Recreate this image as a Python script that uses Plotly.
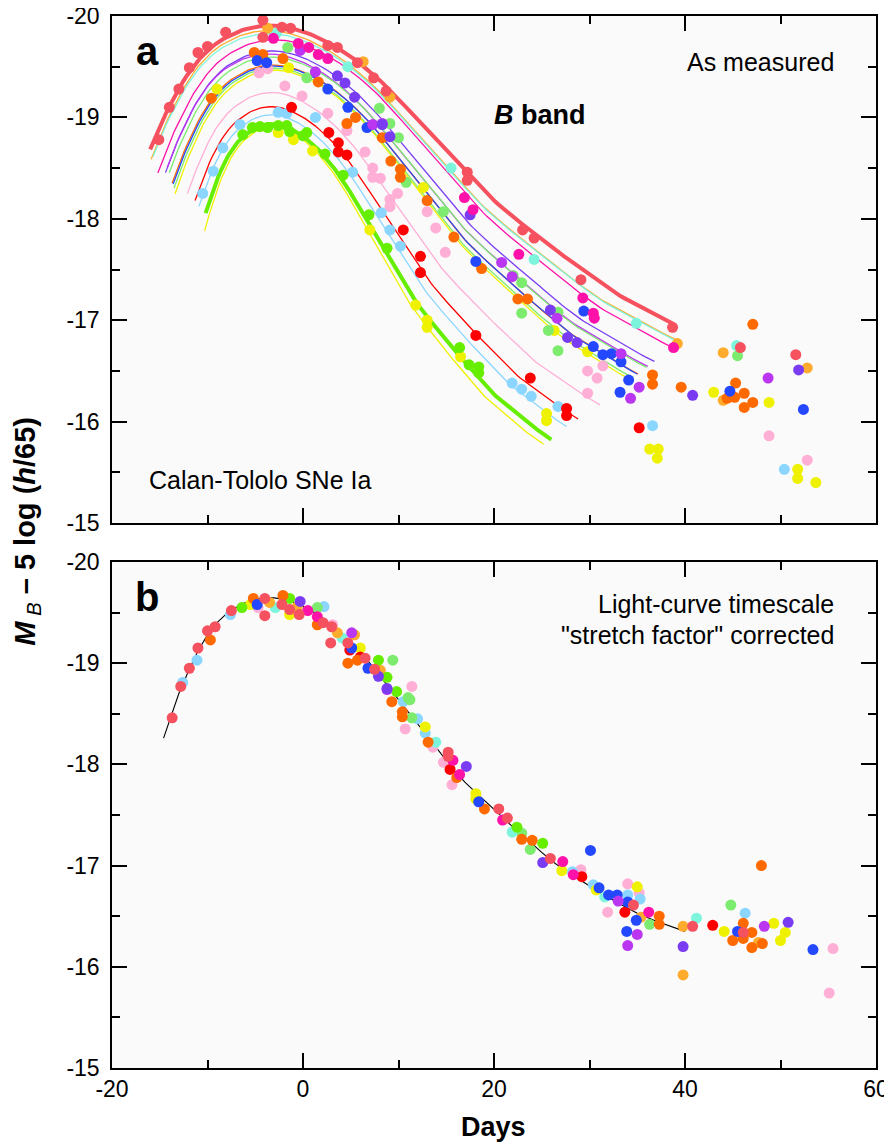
import numpy as np
import plotly.graph_objects as go

# ---------------- colours ----------------
C_CORAL = "#F5515F"
C_LORANGE = "#FFAB2E"
C_DORANGE = "#FF6A00"
C_AQUA = "#7DF5DC"
C_MAGENTA = "#FF12A9"
C_VIOLET = "#7A3CF2"
C_PURPLE = "#BA36F0"
C_BLUE = "#2448FF"
C_LGREEN = "#7DEB6E"
C_GREEN = "#66EE00"
C_YELLOW = "#EEF200"
C_PINK = "#FFAED6"
C_RED = "#FF0000"
C_LBLUE = "#8AD6FF"

# ---------------- template light curve (panel b line) ----------------
TPL_T = [-14.6, -13, -12, -11, -10, -9, -8, -7, -6, -5, -4, -3, -2, -1, 0, 1, 2, 3, 4, 5,
         6, 7, 8, 9, 10, 11, 12, 13, 14, 15, 16, 17, 18, 19, 20, 21, 22, 23, 24, 25,
         26, 27, 28, 29, 30, 31, 33, 35, 37, 39, 40]
TPL_M = [-18.26, -18.70, -18.92, -19.12, -19.28, -19.40, -19.49, -19.55, -19.60, -19.63,
         -19.645, -19.645, -19.63, -19.60, -19.56, -19.51, -19.45, -19.38, -19.30, -19.21,
         -19.11, -19.00, -18.88, -18.76, -18.64, -18.52, -18.40, -18.28, -18.15, -18.03,
         -17.92, -17.82, -17.73, -17.64, -17.55, -17.47, -17.38, -17.30, -17.21, -17.13,
         -17.05, -16.98, -16.92, -16.86, -16.80, -16.74, -16.63, -16.53, -16.45, -16.38, -16.35]

# ---------------- panel a fitted curves: per-SN stretch, shift, offset, span ----------------
CURVE_COLOR = [C_CORAL, C_LORANGE, C_AQUA, C_MAGENTA, C_VIOLET, C_PURPLE, C_LGREEN, C_DORANGE,
               C_BLUE, C_LGREEN, C_YELLOW, C_PINK, C_RED, C_LBLUE, C_GREEN, C_YELLOW]
CURVE_STRETCH = [1.20, 1.15, 1.16, 1.13, 1.07, 1.05, 1.05, 1.03, 1.03, 1.01, 1.00, 0.91, 0.85, 0.82, 0.76, 0.73]
CURVE_SHIFT = [0.8, 0.4, 0.5, 1.0, 0.5, 0.1, 0.4, 0.5, 0.6, 0.5, 0.6, -0.1, -0.33, -0.4, -0.55, -0.6]
CURVE_OFFSET = [-0.26, -0.21, -0.18, -0.12, -0.01, 0.02, 0.05, 0.13, 0.14, 0.16, 0.18, 0.40, 0.54, 0.62, 0.71, 0.74]
CURVE_START = [-16.0, -15.9, -15.7, -15.2, -14.4, -14.2, -14.0, -13.7, -13.6, -13.5, -13.4, -12.1, -11.3, -10.9, -10.2, -10.3]
CURVE_END = [38.7, 39.1, 38.8, 39.0, 36.8, 36.1, 36.0, 35.1, 35.0, 34.6, 34.3, 31.1, 28.8, 27.6, 26.0, 25.2]
CURVE_WIDTH = [4, 1.3, 1.3, 1.3, 1.3, 1.3, 1.3, 1.3, 1.3, 1.3, 1.3, 1.3, 1.3, 1.3, 4, 1.3]

# ---------------- panel a data points (days, M_B) ----------------
A_CORAL = [(-15.1, -18.78), (-14.0, -19.10), (-13.0, -19.28), (-11.9, -19.49), (-11.0, -19.64), (-10.0, -19.70),
           (-8.1, -19.84), (-4.2, -19.96), (-4.2, -19.79), (-2.2, -19.89), (-1.3, -19.88), (2.6, -19.71),
           (3.6, -19.69), (5.7, -19.54), (7.4, -19.39), (8.7, -19.26), (17.2, -18.46), (17.2, -18.38),
           (23.0, -17.89), (24.2, -17.81), (29.1, -17.40), (38.7, -16.93), (45.8, -16.73), (51.6, -16.66)]
A_MAGENTA = [(-3.1, -19.78), (-0.5, -19.73), (0.6, -19.69), (1.6, -19.62), (2.6, -19.58), (16.9, -18.21),
             (17.8, -18.09), (22.6, -17.65), (29.3, -17.22), (30.4, -17.07), (30.5, -17.02), (38.8, -16.73)]
A_AQUA = [(-2.8, -19.83), (4.7, -19.50), (15.5, -18.50), (24.2, -17.60), (34.9, -16.97), (45.4, -16.75)]
A_LORANGE = [(-3.7, -19.88), (6.3, -19.55), (9.1, -19.20), (39.2, -16.77), (44.0, -16.68), (52.8, -16.53), (44.0, -16.21)]
A_DORANGE = [(-9.6, -19.19), (-5.1, -19.64), (-4.2, -19.62), (-2.1, -19.58), (1.6, -19.35), (4.6, -18.94),
             (5.5, -19.00), (8.3, -18.80), (9.2, -18.57), (10.2, -18.49), (10.2, -18.41), (13.0, -18.18),
             (15.8, -17.82), (18.7, -17.51), (22.5, -17.21), (23.5, -17.21), (36.6, -16.46), (36.6, -16.37),
             (39.6, -16.34), (47.1, -16.96), (45.3, -16.38), (46.2, -16.28), (45.2, -16.24), (44.4, -16.23),
             (47.1, -16.19), (46.2, -16.14)]
A_BLUE = [(-4.8, -19.56), (-3.8, -19.54), (2.6, -19.28), (4.7, -19.10), (6.7, -18.90), (18.1, -17.58),
          (29.4, -17.09), (30.4, -16.74), (31.4, -16.66), (32.3, -16.67), (33.3, -16.59), (34.1, -16.41),
          (33.2, -16.29), (44.7, -16.30), (52.4, -16.12)]
A_VIOLET = [(3.6, -19.41), (4.4, -19.34), (5.4, -19.20), (8.3, -18.93), (9.1, -18.81), (17.5, -18.04),
            (25.9, -17.10), (27.7, -16.83), (28.7, -16.78), (40.8, -16.26), (51.9, -16.51)]
A_PURPLE = [(-0.3, -19.66), (1.3, -19.45), (7.3, -18.93), (8.3, -18.94), (20.8, -17.57), (21.9, -17.43),
            (26.6, -17.02), (33.3, -16.67), (35.2, -16.34), (34.3, -16.23), (48.7, -16.43)]
A_LGREEN = [(-1.6, -19.69), (0.4, -19.39), (8.0, -19.09), (9.1, -18.94), (10.0, -18.80), (10.8, -18.36),
            (14.7, -18.07), (22.0, -17.44), (22.9, -17.37), (22.9, -17.07), (25.7, -16.90), (26.7, -16.70),
            (26.7, -17.08), (45.5, -16.65)]
A_GREEN = [(-6.3, -18.83), (-5.3, -18.90), (-4.5, -18.91), (-3.7, -18.90), (-2.6, -18.92), (-1.7, -18.92),
           (-1.4, -18.86), (0.0, -18.82), (0.4, -18.85), (2.3, -18.64), (4.2, -18.43), (6.9, -18.04),
           (8.8, -17.71), (16.4, -16.73), (17.4, -16.56), (18.4, -16.54), (18.4, -16.48)]
A_YELLOW = [(-9.0, -19.28), (-1.5, -19.49), (-2.6, -18.85), (-1.0, -18.78), (1.0, -18.67), (7.0, -17.89),
            (11.8, -17.15), (13.0, -17.00), (13.0, -16.93), (12.6, -18.31), (16.5, -16.64), (25.5, -16.08),
            (25.5, -16.01), (26.3, -16.90), (29.8, -16.69), (43.0, -16.29), (48.8, -16.19), (36.3, -15.73),
            (37.2, -15.73), (37.1, -15.64), (51.8, -15.53), (51.8, -15.44), (53.7, -15.40)]
A_PINK = [(-4.6, -19.44), (-3.7, -19.48), (-1.9, -19.31), (-0.1, -19.21), (2.6, -19.04), (4.6, -18.87),
          (6.5, -18.66), (7.3, -18.50), (7.3, -18.41), (8.1, -18.40), (9.9, -18.25), (9.1, -18.19),
          (9.1, -18.12), (13.0, -18.07), (13.9, -17.91), (14.9, -17.67), (29.8, -16.50), (30.8, -16.43),
          (29.8, -16.28), (31.4, -16.55), (48.8, -15.86), (52.8, -15.62)]
A_RED = [(-1.2, -19.10), (2.7, -18.85), (3.7, -18.75), (3.7, -18.66), (4.6, -18.63), (10.5, -17.89),
         (12.3, -17.63), (12.3, -17.47), (18.1, -16.85), (23.8, -16.43), (27.6, -16.13), (27.6, -16.06),
         (35.2, -15.94)]
A_LBLUE = [(-10.5, -18.25), (-9.4, -18.47), (-8.4, -18.70), (-6.6, -18.93), (-2.6, -19.05), (-1.7, -19.04),
           (1.3, -19.00), (5.2, -18.46), (8.2, -18.06), (9.1, -17.89), (10.2, -17.73), (21.9, -16.38),
           (22.9, -16.32), (23.9, -16.25), (26.7, -16.15), (36.6, -15.96), (50.4, -15.53)]

# ---------------- panel b data points (stretch-corrected) ----------------
B_CORAL = [(-13.7, -18.46), (-12.8, -18.77), (-11.9, -18.95), (-11.0, -19.15), (-10.0, -19.32), (-9.2, -19.36),
           (-7.5, -19.52), (-4.0, -19.64), (-4.0, -19.47), (-2.2, -19.58), (-1.4, -19.53), (-0.4, -19.48),
           (2.1, -19.40), (3.0, -19.36), (2.9, -19.20), (4.7, -19.20), (6.5, -19.05), (7.5, -18.94),
           (15.2, -18.12), (15.2, -18.08), (20.5, -17.56), (21.4, -17.47), (25.9, -17.07), (34.6, -16.61),
           (40.8, -16.40), (46.1, -16.34)]
B_LBLUE = [(-12.6, -18.81), (-11.1, -19.03), (-7.6, -19.48), (2.2, -19.56), (10.5, -18.62), (12.0, -18.45),
           (12.8, -18.31), (28.2, -16.94), (30.4, -16.81), (34.0, -16.71), (35.3, -16.67), (46.3, -16.53)]
B_DORANGE = [(-9.7, -19.23), (-5.2, -19.64), (-2.1, -19.67), (1.5, -19.38), (4.7, -19.00), (5.7, -19.03),
             (9.3, -18.62), (10.4, -18.52), (10.4, -18.47), (13.1, -18.22), (16.1, -17.87), (19.0, -17.56),
             (22.9, -17.26), (24.0, -17.25), (37.3, -16.50), (37.3, -16.42), (48.0, -17.00), (46.1, -16.43),
             (47.0, -16.34), (45.0, -16.26), (46.1, -16.28), (47.0, -16.19), (48.1, -16.23)]
B_GREEN = [(-6.4, -19.55), (-1.4, -19.64), (7.9, -19.03), (8.8, -18.86), (9.8, -18.72), (22.4, -17.38), (25.1, -17.22)]
B_LGREEN = [(1.5, -19.55), (9.4, -19.03), (11.0, -18.66), (11.2, -18.64), (11.4, -18.46), (22.9, -17.32),
            (23.8, -17.16), (36.3, -16.42), (44.8, -16.61)]
B_BLUE = [(-4.8, -19.58), (5.1, -19.15), (6.8, -18.95), (18.4, -17.63), (30.1, -17.15), (31.0, -16.78),
          (32.0, -16.71), (32.9, -16.71), (34.0, -16.64), (34.9, -16.46), (33.9, -16.35), (45.5, -16.35),
          (53.4, -16.17)]
B_VIOLET = [(-0.3, -19.61), (7.9, -18.87), (8.8, -18.75), (17.1, -17.98), (25.1, -17.03), (39.8, -16.20), (50.8, -16.44)]
B_PURPLE = [(5.1, -19.30), (8.8, -18.74), (33.0, -16.65), (35.0, -16.32), (34.0, -16.21), (48.3, -16.40)]
B_MAGENTA = [(0.5, -19.52), (1.5, -19.46), (15.7, -18.04), (16.4, -17.90), (20.9, -17.45), (27.2, -17.04),
             (28.3, -16.91), (36.2, -16.54)]
B_LORANGE = [(-3.5, -19.60), (-0.6, -19.56), (3.6, -19.30), (5.4, -19.28), (8.1, -18.93), (35.4, -16.49),
             (39.8, -16.40), (39.8, -15.92), (47.7, -16.24)]
B_YELLOW = [(-5.5, -19.58), (-1.4, -19.48), (6.0, -19.15), (12.8, -18.37), (18.1, -17.71), (18.1, -17.66),
            (27.1, -16.95), (30.7, -16.76), (35.0, -16.79), (44.1, -16.35), (49.3, -16.43), (50.5, -16.34),
            (50.0, -16.26)]
B_PINK = [(-4.7, -19.55), (3.1, -19.38), (10.7, -18.35), (11.4, -18.77), (14.7, -18.02), (15.6, -17.80),
          (13.6, -18.17), (29.1, -16.96), (34.0, -16.82), (35.2, -16.73), (31.9, -16.54), (55.5, -16.18),
          (55.1, -15.74)]
B_AQUA = [(-2.9, -19.55), (4.1, -19.25), (13.9, -18.22), (21.9, -17.33), (31.6, -16.69), (41.2, -16.48)]
B_RED = [(4.9, -19.13), (6.0, -19.06), (15.4, -17.95), (29.2, -16.89), (33.7, -16.54), (42.9, -16.41)]

Y_TICKS = [-20, -19, -18, -17, -16, -15]
Y_TICK_TEXT = ["-20", "-19", "-18", "-17", "-16", "-15"]
X_TICKS = [-20, 0, 20, 40, 60]
X_TICK_TEXT = ["-20", "0", "20", "40", "60"]

FONT = "Liberation Sans, Arial, sans-serif"

fig = go.Figure()

# panel a curves
for col, s, sh, d, t0, t1, w in zip(CURVE_COLOR, CURVE_STRETCH, CURVE_SHIFT, CURVE_OFFSET,
                                     CURVE_START, CURVE_END, CURVE_WIDTH):
    t = np.linspace(t0, t1, 160)
    m = np.interp((t - sh) / s, TPL_T, TPL_M) + d
    fig.add_trace(go.Scatter(x=t, y=m, mode="lines", line=dict(color=col, width=w),
                             xaxis="x", yaxis="y", hoverinfo="skip"))

# panel b template line
fig.add_trace(go.Scatter(x=TPL_T, y=TPL_M, mode="lines", line=dict(color="black", width=1.1),
                         xaxis="x2", yaxis="y2", hoverinfo="skip"))

A_SETS = [(A_PINK, C_PINK), (A_LBLUE, C_LBLUE), (A_YELLOW, C_YELLOW), (A_LGREEN, C_LGREEN),
          (A_AQUA, C_AQUA), (A_LORANGE, C_LORANGE), (A_GREEN, C_GREEN), (A_RED, C_RED),
          (A_DORANGE, C_DORANGE), (A_BLUE, C_BLUE), (A_PURPLE, C_PURPLE), (A_VIOLET, C_VIOLET),
          (A_MAGENTA, C_MAGENTA), (A_CORAL, C_CORAL)]
B_SETS = [(B_PINK, C_PINK), (B_LBLUE, C_LBLUE), (B_YELLOW, C_YELLOW), (B_LGREEN, C_LGREEN),
          (B_AQUA, C_AQUA), (B_LORANGE, C_LORANGE), (B_GREEN, C_GREEN), (B_RED, C_RED),
          (B_DORANGE, C_DORANGE), (B_BLUE, C_BLUE), (B_PURPLE, C_PURPLE), (B_VIOLET, C_VIOLET),
          (B_MAGENTA, C_MAGENTA), (B_CORAL, C_CORAL)]

for pts, col in A_SETS:
    fig.add_trace(go.Scatter(x=[p[0] for p in pts], y=[p[1] for p in pts], mode="markers",
                             marker=dict(color=col, size=11, line=dict(width=0)),
                             xaxis="x", yaxis="y", hoverinfo="skip"))
for pts, col in B_SETS:
    fig.add_trace(go.Scatter(x=[p[0] for p in pts], y=[p[1] for p in pts], mode="markers",
                             marker=dict(color=col, size=11, line=dict(width=0)),
                             xaxis="x2", yaxis="y2", hoverinfo="skip"))

common_x = dict(range=[-20, 60], tickvals=X_TICKS, ticktext=X_TICK_TEXT, ticks="inside", ticklen=15,
                tickwidth=1.5, tickcolor="black", showline=True, linecolor="black", linewidth=1.5,
                mirror="ticks", showgrid=False, zeroline=False, automargin=False, ticklabeloverflow="allow",
                minor=dict(dtick=10, tick0=-20, ticks="inside", ticklen=8, tickwidth=1.5, tickcolor="black", showgrid=False),
                tickfont=dict(family=FONT, size=23, color="black"))
common_y = dict(range=[-15, -20], tickvals=Y_TICKS, ticktext=Y_TICK_TEXT, ticks="inside", ticklen=15,
                tickwidth=1.5, tickcolor="black", showline=True, linecolor="black", linewidth=1.5,
                mirror="ticks", showgrid=False, zeroline=False, automargin=False, ticklabeloverflow="allow",
                minor=dict(dtick=0.5, tick0=-20, ticks="inside", ticklen=8, tickwidth=1.5, tickcolor="black", showgrid=False),
                tickfont=dict(family=FONT, size=23, color="black"), ticklabelstandoff=6)

# the page body adds an 8 px offset, so the figure is 8 px smaller than the window
fig.update_layout(
    template="none",
    width=884, height=1136,
    margin=dict(l=104, r=16, t=8, b=76, autoexpand=False),
    paper_bgcolor="white", plot_bgcolor="#FAFAFA",
    showlegend=False,
    font=dict(family=FONT, size=23, color="black"),
    xaxis=dict(common_x, domain=[0, 1], anchor="y", showticklabels=False),
    yaxis=dict(common_y, domain=[0.518, 1], anchor="x"),
    xaxis2=dict(common_x, domain=[0, 1], anchor="y2", showticklabels=True),
    yaxis2=dict(common_y, domain=[0, 0.481], anchor="x2"),
)

ann = [
    dict(text="<b>a</b>", x=0.046, y=0.931, xref="x domain", yref="y domain", size=40, xa="center"),
    dict(text="As measured", x=0.948, y=0.909, xref="x domain", yref="y domain", size=25, xa="right"),
    dict(text="<b><i>B</i> band</b>", x=0.56, y=0.805, xref="x domain", yref="y domain", size=27, xa="center"),
    dict(text="Calan-Tololo SNe Ia", x=0.046, y=0.085, xref="x domain", yref="y domain", size=25, xa="left"),
    dict(text="<b>b</b>", x=0.046, y=0.931, xref="x2 domain", yref="y2 domain", size=40, xa="center"),
    dict(text="Light-curve timescale", x=0.948, y=0.917, xref="x2 domain", yref="y2 domain", size=25, xa="right"),
    dict(text="\"stretch factor\" corrected", x=0.948, y=0.856, xref="x2 domain", yref="y2 domain", size=25, xa="right"),
    dict(text="<b>Days</b>", x=0.499, y=-0.056, xref="paper", yref="paper", size=27, xa="center"),
]
for a in ann:
    fig.add_annotation(text=a["text"], x=a["x"], y=a["y"], xref=a["xref"], yref=a["yref"],
                       xanchor=a["xa"], yanchor="middle", showarrow=False,
                       font=dict(family=FONT, size=a["size"], color="black"))

fig.add_annotation(text="<b><i>M</i></b><sub><i> B</i></sub><b> – 5 log (<i>h</i>/65)</b>",
                   x=-0.111, y=0.51, xref="paper", yref="paper", xanchor="center", yanchor="middle",
                   textangle=-90, showarrow=False, font=dict(family=FONT, size=29, color="black"))

fig.write_html("out.html")
